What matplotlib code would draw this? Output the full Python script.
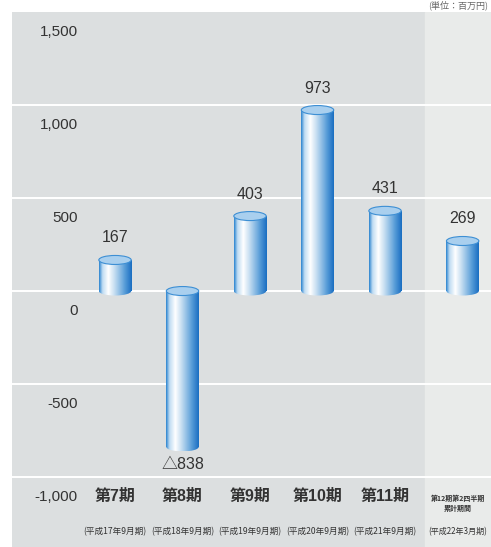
import matplotlib.pyplot as plt
import numpy as np
from matplotlib.colors import LinearSegmentedColormap
from matplotlib.patches import Rectangle, Ellipse

plt.rcParams['font.family'] = ['Liberation Sans', 'Noto Sans CJK JP', 'DejaVu Sans']

# data
periods = ['第7期', '第8期', '第9期', '第10期', '第11期', '第12期第2四半期\n累計期間']
sub_labels = ['(平成17年9月期)', '(平成18年9月期)', '(平成19年9月期)',
              '(平成20年9月期)', '(平成21年9月期)', '(平成22年3月期)']
values = [167, -838, 403, 973, 431, 269]
value_labels = ['167', '△838', '403', '973', '431', '269']
yticks = [1500, 1000, 500, 0, -500, -1000]
ytick_labels = ['1,500', '1,000', '500', '0', '-500', '-1,000']
unit_label = '(単位：百万円)'

xpos = [0, 1, 2, 3, 4, 5.15]
label_x = [0, 1, 2, 3, 4, 5.08]
bar_w = 0.48
px_y = 500 / 93.0          # data units per pixel (vertical)
cap_h = 9 * px_y

fig = plt.figure(figsize=(4.91, 5.47), dpi=100)
ax = fig.add_axes([12 / 491, 0, 479 / 491, 535 / 547])
ax.set_xlim(-1.526, 5.57)
ax.set_ylim(-1376, 1500)
ax.axis('off')

# panels
ax.add_patch(Rectangle((-1.526, -1376), 4.59 + 1.526, 2876, color='#dcdfe0', zorder=0))
ax.add_patch(Rectangle((4.59, -1376), 5.57 - 4.59, 2876, color='#e9ebea', zorder=0))
for t in yticks[1:]:
    ax.axhline(t, color='white', lw=1.4, zorder=1)

for t, lab in zip(yticks, ytick_labels):
    ax.text(-0.55, t - 20 * px_y, lab, ha='right', va='center', fontsize=11,
            color='#333333', zorder=5)

cmap = LinearSegmentedColormap.from_list('cyl', [
    (0.0, '#2f86d0'), (0.1, '#bfdcf3'), (0.28, '#ffffff'), (0.5, '#bcd8ef'),
    (0.78, '#5b9fd9'), (1.0, '#1a6ec2')])
grad = np.linspace(0, 1, 64).reshape(1, -1)

for x, v, lab in zip(xpos, values, value_labels):
    x0, x1 = x - bar_w / 2, x + bar_w / 2
    lo, hi = min(0, v), max(0, v)
    # body
    rect = Rectangle((x0, lo), bar_w, hi - lo, transform=ax.transData)
    im = ax.imshow(grad, extent=[x0, x1, lo, hi], aspect='auto', cmap=cmap,
                   zorder=3, interpolation='bilinear')
    im.set_clip_path(rect)
    # rounded bottom
    bot = Ellipse((x, lo), bar_w, cap_h, transform=ax.transData)
    im2 = ax.imshow(grad, extent=[x0, x1, lo - cap_h / 2, lo], aspect='auto',
                    cmap=cmap, zorder=3, interpolation='bilinear')
    im2.set_clip_path(bot)
    # top face
    ax.add_patch(Ellipse((x, hi), bar_w, cap_h, facecolor='#a9cfee',
                         edgecolor='#3d8fd4', lw=0.8, zorder=4))
    if v >= 0:
        ax.text(x, hi + 22 * px_y, lab, ha='center', va='center', fontsize=11.5,
                color='#333333', zorder=5)
    else:
        ax.text(x, lo - 18 * px_y, lab, ha='center', va='center', fontsize=11.5,
                color='#333333', zorder=5)

# category labels
main_y = -1000 - 19 * px_y
sub_y = -1000 - 55 * px_y
for x, p, s in zip(label_x, periods, sub_labels):
    if '\n' in p:
        ax.text(x, main_y - 7 * px_y, p, ha='center', va='center', fontsize=5,
                fontweight='bold', color='#333333', linespacing=1.5,
                family=['Noto Sans CJK JP'], zorder=5)
        ax.text(x, sub_y, s, ha='center', va='center', fontsize=5.8,
                color='#333333', family=['Noto Sans CJK JP'], zorder=5)
    else:
        ax.text(x, main_y, p, ha='center', va='center', fontsize=11.5,
                fontweight='bold', color='#333333',
                family=['Liberation Sans', 'Noto Sans CJK JP'], zorder=5)
        ax.text(x, sub_y, s, ha='center', va='center', fontsize=6.2,
                color='#333333', family=['Noto Sans CJK JP'], zorder=5)

fig.text(0.995, 0.999, unit_label, ha='right', va='top', fontsize=6.5,
         color='#666666', family=['Noto Sans CJK JP'])

fig.savefig('out.png', dpi=100)
